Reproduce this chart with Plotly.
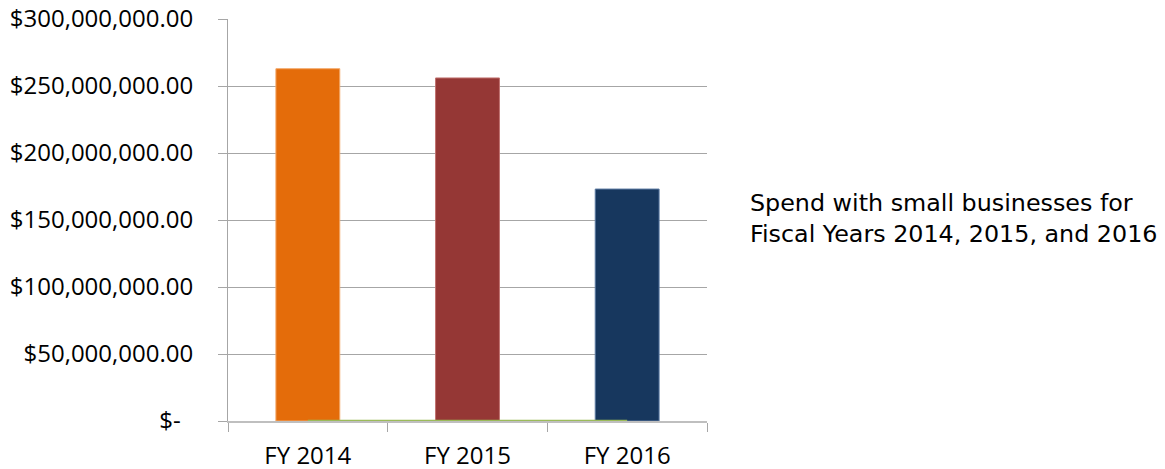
import plotly.graph_objects as go

categories = ["FY 2014", "FY 2015", "FY 2016"]
spend = [262_900_000, 256_000_000, 173_100_000]
baseline = [0, 0, 0]
bar_colors = ["#E46C0A", "#953735", "#17375E"]
bar_edges = ["#F3A86A", "#C0706E", "#5C7BA3"]
tick_vals = [0, 50_000_000, 100_000_000, 150_000_000, 200_000_000, 250_000_000, 300_000_000]
tick_text = ["$-\u00a0\u00a0", "$50,000,000.00", "$100,000,000.00", "$150,000,000.00",
             "$200,000,000.00", "$250,000,000.00", "$300,000,000.00"]
note = "Spend with small businesses for<br>Fiscal Years 2014, 2015, and 2016"

fig = go.Figure()
fig.add_trace(go.Bar(
    x=categories, y=spend, width=0.4,
    marker=dict(color=bar_colors, line=dict(color=bar_edges, width=1)),
    showlegend=False, hoverinfo="skip",
))
fig.add_trace(go.Scatter(
    x=categories, y=baseline, mode="lines",
    line=dict(color="#9BBB59", width=2.5),
    showlegend=False, hoverinfo="skip",
))

fig.update_layout(
    width=1165, height=469,
    margin=dict(l=228, r=458, t=19, b=48, autoexpand=False),
    paper_bgcolor="white", plot_bgcolor="white",
    font=dict(family="Open Sans", color="#000000"),
    annotations=[dict(
        text=note, xref="paper", yref="paper",
        x=(748 - 228) / 479, y=(421 - 219) / 402,
        xanchor="left", yanchor="middle", align="left",
        showarrow=False, font=dict(family="DejaVu Sans", size=23.8, color="#000000"),
    )],
)
fig.update_xaxes(
    type="category", tickson="boundaries", automargin=False,
    showline=True, linecolor="#BFBFBF", linewidth=1.5,
    ticks="outside", ticklen=9, tickcolor="#A6A6A6",
    tickfont=dict(family="Open Sans", size=24, color="#000000"),
    showgrid=False, zeroline=False,
    ticklabelstandoff=12,
)
fig.update_yaxes(
    range=[0, 300_000_000], tickvals=tick_vals, ticktext=tick_text, automargin=False,
    showline=True, linecolor="#A6A6A6", linewidth=1,
    ticks="outside", ticklen=9, tickcolor="#A6A6A6",
    showgrid=True, gridcolor="#A6A6A6", gridwidth=1,
    zeroline=False,
    tickfont=dict(family="Open Sans", size=24, color="#000000"),
    ticklabelstandoff=20,
)

fig.write_html("out.html", config={"displayModeBar": False},
               post_script="document.body.style.margin='0';")
